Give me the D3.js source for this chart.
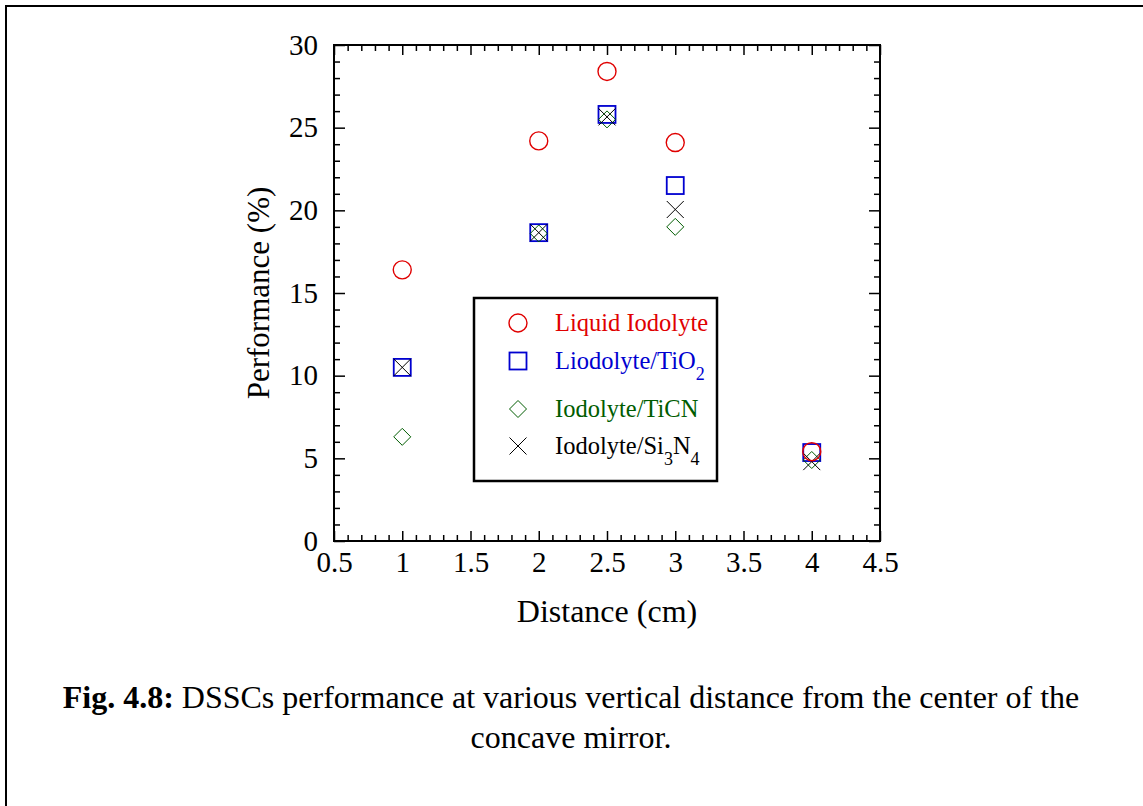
<!DOCTYPE html>
<html>
<head>
<meta charset="utf-8">
<script src="https://cdn.jsdelivr.net/npm/d3@7"></script>
<style>
  body { margin: 0; background: #fff; }
  text { font-family: "Liberation Serif", "Times New Roman", serif; }
</style>
</head>
<body>
<svg id="chart" width="1143" height="806"></svg>
<script>
// data
const distance = [1, 2, 2.5, 3, 4];
const liquidIodolyte = [16.4, 24.2, 28.4, 24.1, 5.4];
const iodolyteTiO2 = [10.5, 18.65, 25.8, 21.5, 5.35];
const iodolyteTiCN = [6.3, 18.6, 25.5, 19.0, 4.9];
const iodolyteSi3N4 = [10.5, 18.65, 25.65, 20.05, 4.8];
const xTicks = [0.5, 1, 1.5, 2, 2.5, 3, 3.5, 4, 4.5];
const yTicks = [0, 5, 10, 15, 20, 25, 30];

const series = [
  { name: 'Liquid Iodolyte', sub: null, values: liquidIodolyte, shape: 'circle', color: '#e00000' },
  { name: 'Liodolyte/TiO', sub: ['2'], values: iodolyteTiO2, shape: 'square', color: '#0000d0' },
  { name: 'Iodolyte/TiCN', sub: null, values: iodolyteTiCN, shape: 'diamond', color: '#005c00' },
  { name: 'Iodolyte/Si', sub: ['3', 'N', '4'], values: iodolyteSi3N4, shape: 'cross', color: '#000000' },
];

const svg = d3.select('#chart');

// page frame (only top and left edges visible)
svg.append('path')
  .attr('d', 'M6,806 L6,6 L1143,6')
  .attr('fill', 'none')
  .attr('stroke', '#000')
  .attr('stroke-width', 2);

const plot = { left: 334, top: 45, right: 880, bottom: 541 };
const x = d3.scaleLinear().domain([0.5, 4.5]).range([plot.left, plot.right]);
const y = d3.scaleLinear().domain([0, 30]).range([plot.bottom, plot.top]);

const minorX = d3.range(5, 46).map((d) => d / 10).filter((d) => Math.round(d * 10) % 5 !== 0);
const minorY = d3.range(0, 31).filter((d) => d % 5 !== 0);

function styleAxis(g) {
  g.select('.domain').remove();
  g.selectAll('line').attr('stroke', '#000').attr('stroke-width', 1.5);
  g.selectAll('text')
    .attr('font-family', '"Liberation Serif", "Times New Roman", serif')
    .attr('font-size', 29)
    .attr('fill', '#000');
}

// bottom and top axes
svg.append('g')
  .attr('transform', `translate(0,${plot.bottom})`)
  .call(d3.axisBottom(x).tickValues(xTicks).tickSize(-10).tickPadding(10).tickFormat(d3.format('')))
  .call(styleAxis);
svg.append('g')
  .attr('transform', `translate(0,${plot.bottom})`)
  .call(d3.axisBottom(x).tickValues(minorX).tickSize(-6).tickFormat(''))
  .call(styleAxis);
svg.append('g')
  .attr('transform', `translate(0,${plot.top})`)
  .call(d3.axisTop(x).tickValues(xTicks).tickSize(-10).tickFormat(''))
  .call(styleAxis);
svg.append('g')
  .attr('transform', `translate(0,${plot.top})`)
  .call(d3.axisTop(x).tickValues(minorX).tickSize(-6).tickFormat(''))
  .call(styleAxis);

// left and right axes
svg.append('g')
  .attr('transform', `translate(${plot.left},0)`)
  .call(d3.axisLeft(y).tickValues(yTicks).tickSize(-11).tickPadding(16))
  .call(styleAxis);
svg.append('g')
  .attr('transform', `translate(${plot.left},0)`)
  .call(d3.axisLeft(y).tickValues(minorY).tickSize(-6).tickFormat(''))
  .call(styleAxis);
svg.append('g')
  .attr('transform', `translate(${plot.right},0)`)
  .call(d3.axisRight(y).tickValues(yTicks).tickSize(-11).tickFormat(''))
  .call(styleAxis);
svg.append('g')
  .attr('transform', `translate(${plot.right},0)`)
  .call(d3.axisRight(y).tickValues(minorY).tickSize(-6).tickFormat(''))
  .call(styleAxis);

// plot frame
svg.append('rect')
  .attr('x', plot.left)
  .attr('y', plot.top)
  .attr('width', plot.right - plot.left)
  .attr('height', plot.bottom - plot.top)
  .attr('fill', 'none')
  .attr('stroke', '#000')
  .attr('stroke-width', 2);

// axis titles
svg.append('text')
  .attr('x', (plot.left + plot.right) / 2)
  .attr('y', 622)
  .attr('text-anchor', 'middle')
  .attr('font-size', 32)
  .text('Distance (cm)');
svg.append('text')
  .attr('transform', `translate(269,${(plot.top + plot.bottom) / 2}) rotate(-90)`)
  .attr('text-anchor', 'middle')
  .attr('font-size', 31)
  .text('Performance (%)');

// marker drawing
const half = 8.5;
function drawMarker(g, shape, color) {
  if (shape === 'circle') {
    g.append('circle').attr('r', 9).attr('fill', 'none').attr('stroke', color).attr('stroke-width', 1.4);
  } else if (shape === 'square') {
    g.append('rect').attr('x', -half).attr('y', -half).attr('width', half * 2).attr('height', half * 2)
      .attr('fill', 'none').attr('stroke', color).attr('stroke-width', 1.8);
  } else if (shape === 'diamond') {
    g.append('path').attr('d', `M0,${-half} L${half},0 L0,${half} L${-half},0 Z`)
      .attr('fill', 'none').attr('stroke', color).attr('stroke-width', 1);
  } else {
    g.append('path').attr('d', `M${-half},${-half} L${half},${half} M${-half},${half} L${half},${-half}`)
      .attr('fill', 'none').attr('stroke', color).attr('stroke-width', 1);
  }
}

// draw series; circles last so they sit on top like the figure
const drawOrder = [1, 2, 3, 0];
drawOrder.forEach((i) => {
  const s = series[i];
  svg.append('g')
    .selectAll('g')
    .data(distance.map((d, j) => [d, s.values[j]]))
    .join('g')
    .attr('transform', (d) => `translate(${x(d[0])},${y(d[1])})`)
    .each(function () { drawMarker(d3.select(this), s.shape, s.color); });
});

// legend
const legend = svg.append('g');
legend.append('rect')
  .attr('x', 474).attr('y', 298).attr('width', 243).attr('height', 183)
  .attr('fill', '#fff').attr('stroke', '#000').attr('stroke-width', 2.5);
const rowY = [323, 361, 409, 446];
series.forEach((s, i) => {
  const gm = legend.append('g').attr('transform', `translate(518,${rowY[i]})`);
  drawMarker(gm, s.shape, s.color);
  const t = legend.append('text')
    .attr('x', 555)
    .attr('y', rowY[i] + 8)
    .attr('font-size', 24.5)
    .attr('fill', s.color)
    .text(s.name);
  if (s.sub) {
    s.sub.forEach((part) => {
      const isSub = /\d/.test(part);
      t.append('tspan')
        .attr('dy', isSub ? 11 : -11)
        .attr('font-size', isSub ? 18 : 24.5)
        .text(part);
    });
  }
});

// caption
const caption = svg.append('text').attr('text-anchor', 'middle').attr('font-size', 32);
caption.append('tspan').attr('x', 571).attr('y', 708).attr('font-weight', 'bold').text('Fig. 4.8:');
caption.append('tspan').text(' DSSCs performance at various vertical distance from the center of the');
svg.append('text')
  .attr('text-anchor', 'middle')
  .attr('font-size', 32)
  .attr('x', 571)
  .attr('y', 748)
  .text('concave mirror.');
</script>
</body>
</html>
